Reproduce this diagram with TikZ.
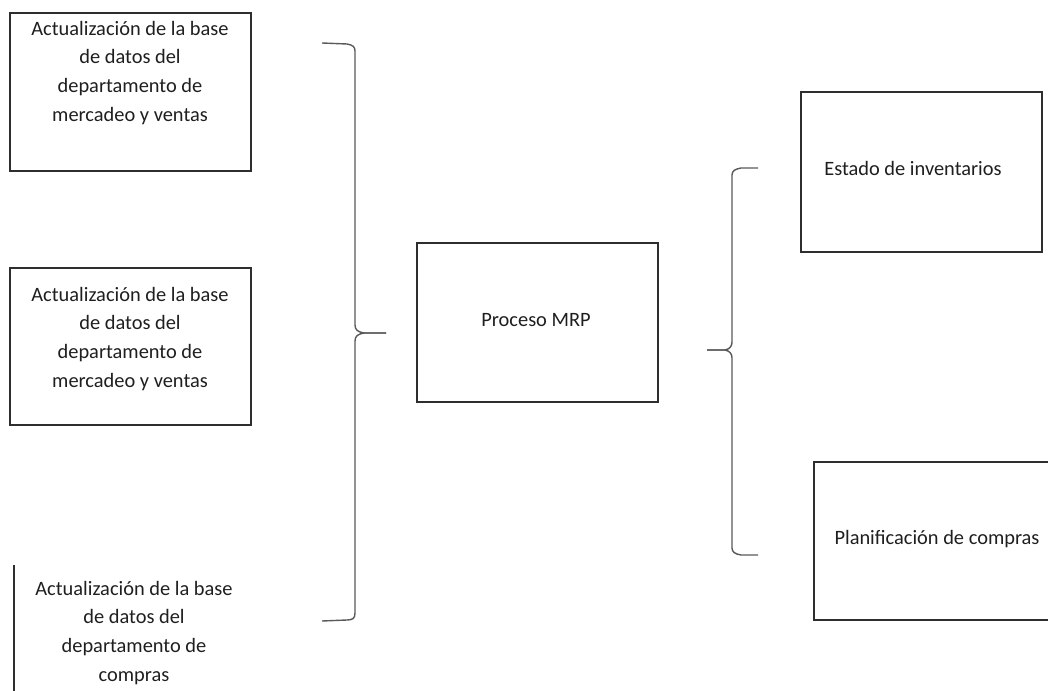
\documentclass[tikz,border=0pt]{standalone}
\usepackage{fontspec}
\setmainfont{Carlito}
\begin{document}
\begin{tikzpicture}[x=1pt,y=-1pt,
  boxstyle/.style={draw=black!82,line width=1.6pt,fill=white,inner sep=0pt},
  txt/.style={font=\fontsize{20.4}{28.6}\selectfont,align=center,inner sep=0pt,text=black!88},
  bracestyle/.style={draw=black!65,line width=1.4pt,line join=round}]
\useasboundingbox (0,0) rectangle (1048,690);
% boxes
\node[boxstyle,minimum width=241pt,minimum height=158pt] (b1) at (130.5,92) {};
\node[boxstyle,minimum width=241pt,minimum height=157pt] (b2) at (130.5,346.5) {};
\node[boxstyle,minimum width=241pt,minimum height=159pt] (mrp) at (537.5,322.5) {};
\node[boxstyle,minimum width=241pt,minimum height=160pt] (est) at (921.5,172) {};
\node[boxstyle,minimum width=250pt,minimum height=158pt] (pla) at (939,541) {};
\coordinate (b3tl) at (14,565);
\coordinate (b3bl) at (14,692);
\draw[draw=black!82,line width=1.6pt] (b3tl) -- (b3bl);
% texts
\node[txt,anchor=north] (t1) at (130,21) {Actualización de la base\\de datos del\\departamento de\\mercadeo y ventas};
\node[txt,anchor=north] (t2) at (130,287) {Actualización de la base\\de datos del\\departamento de\\mercadeo y ventas};
\node[txt,anchor=north] (t3) at (134,581) {Actualización de la base\\de datos del\\departamento de\\compras};
\node[txt] at (536,320) {Proceso MRP};
\node[txt] at (913,168) {Estado de inventarios};
\node[txt] at (937,539) {Planificación de compras};
% left brace
\coordinate (lt) at (322,43);
\coordinate (lb) at (322,621);
\coordinate (lm) at (386,333);
\draw[bracestyle] (lt) -- (347,44) .. controls (353,45) and (355,47) .. (355,51)
  -- (355,325) .. controls (355,330) and (358,332) .. (364,333) -- (lm);
\draw[bracestyle] (lm) -- (364,333) .. controls (358,334) and (355,336) .. (355,341)
  -- (355,613) .. controls (355,618) and (353,620) .. (347,620) -- (lb);
% right brace
\coordinate (rt) at (758,168);
\coordinate (rb) at (758,555);
\coordinate (rm) at (707,350);
\draw[bracestyle] (rt) -- (741,168) .. controls (735,169) and (732,171) .. (732,175)
  -- (732,342) .. controls (732,346) and (730,349) .. (725,350) -- (rm);
\draw[bracestyle] (rm) -- (725,350) .. controls (730,351) and (732,354) .. (732,358)
  -- (732,548) .. controls (732,552) and (735,554) .. (741,555) -- (rb);
\end{tikzpicture}
\end{document}
